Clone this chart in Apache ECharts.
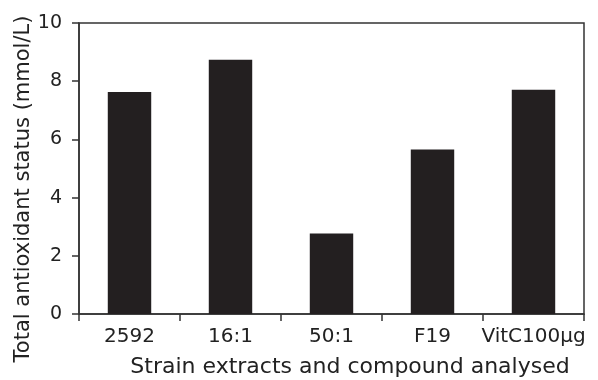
<!DOCTYPE html>
<html><head><meta charset="utf-8">
<script src="https://cdn.jsdelivr.net/npm/echarts@6/dist/echarts.min.js"></script>
<style>html,body{margin:0;padding:0;background:#fff;}#c{width:598px;height:380px;}</style>
</head><body><div id="c"></div>
<script>
const categories = ['2592', '16:1', '50:1', 'F19', 'VitC100\u03bcg'];
const values = [7.63, 8.74, 2.77, 5.65, 7.71];
const yTicks = [0, 2, 4, 6, 8, 10];
const xTitle = 'Strain extracts and compound analysed';
const yTitle = 'Total antioxidant status (mmol/L)';

const font = 'DejaVu Sans';
const chart = echarts.init(document.getElementById('c'), null, {renderer: 'canvas'});
chart.setOption({
  animation: false,
  backgroundColor: '#fff',
  grid: {left: 79, right: 14, top: 23, bottom: 66, outerBoundsMode: 'none', containLabel: false,
         show: true, borderColor: '#333', borderWidth: 1.5, backgroundColor: 'transparent'},
  graphic: [{
    type: 'text', x: 24, y: 189, rotation: Math.PI / 2,
    style: {text: yTitle, fill: '#222', font: '21px "DejaVu Sans"', align: 'center', verticalAlign: 'middle'}
  }, {
    type: 'text', x: 350, y: 367,
    style: {text: xTitle, fill: '#222', font: '22px "DejaVu Sans"', align: 'center', verticalAlign: 'middle'}
  }],
  xAxis: {
    type: 'category', data: categories,
    axisLine: {lineStyle: {color: '#333', width: 1.5}},
    axisTick: {show: true, length: 7, lineStyle: {color: '#333', width: 1.5}},
    axisLabel: {color: '#222', fontFamily: font, fontSize: 20, margin: 13, interval: 0}
  },
  yAxis: {
    type: 'value', min: yTicks[0], max: yTicks[yTicks.length - 1], interval: 2,
    axisLine: {show: true, lineStyle: {color: '#333', width: 1.5}},
    axisTick: {show: true, length: 7, lineStyle: {color: '#333', width: 1.5}},
    splitLine: {show: false},
    axisLabel: {color: '#222', fontFamily: font, fontSize: 19, margin: 17}
  },
  series: [{
    type: 'bar', data: values, barWidth: '43%',
    itemStyle: {color: '#231f20'}
  }]
});
</script></body></html>
